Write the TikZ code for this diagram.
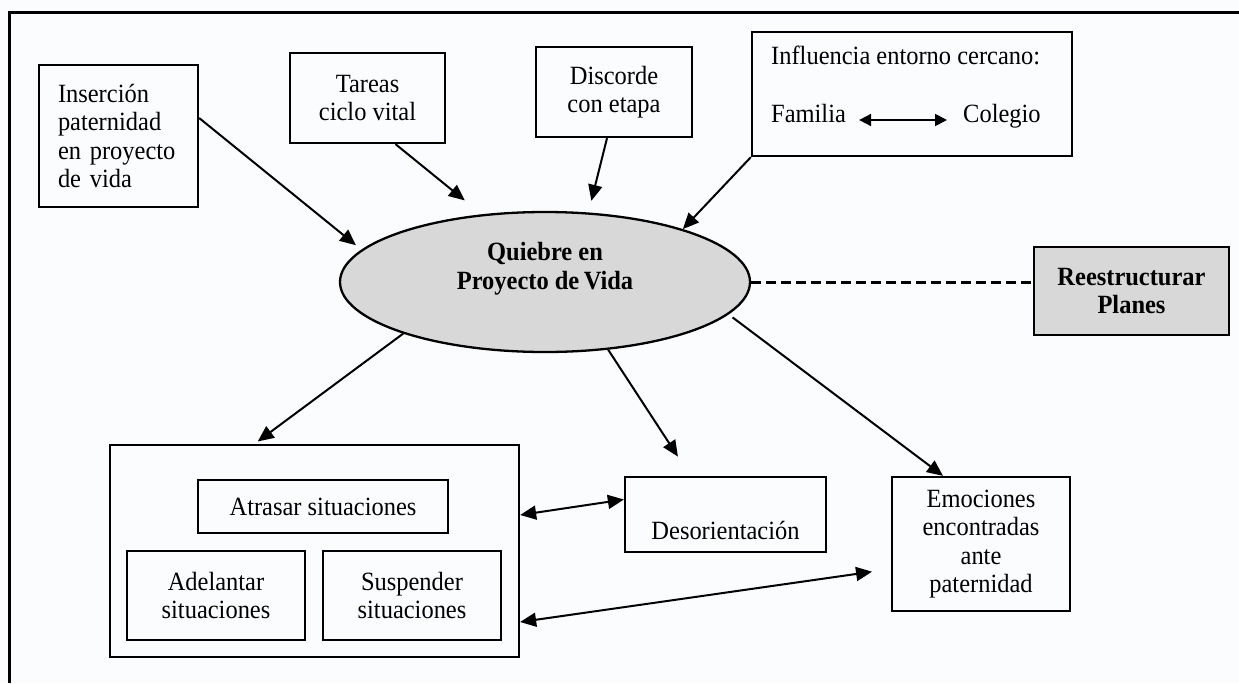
\documentclass[tikz,border=0pt]{standalone}
\usepackage{fontspec}
\setmainfont[FakeStretch=0.93]{Liberation Serif}
\usetikzlibrary{arrows.meta,shapes.geometric}
\definecolor{paper}{RGB}{250,252,253}
\definecolor{shade}{RGB}{216,216,216}
\begin{document}
\begin{tikzpicture}[x=1pt,y=-1pt,
  txt/.style={font=\fontsize{26.3}{28.5}\selectfont},
  boldtxt/.style={font=\fontsize{26.3}{28.5}\selectfont\bfseries},
  box/.style={draw, line width=2.3pt, inner sep=0pt, txt, align=center},
  tip/.style={Triangle[length=16pt,width=14pt]},
  arr/.style={line width=2pt, -{Triangle[length=16pt,width=14pt]}},
  dbl/.style={line width=2pt, {Triangle[length=16pt,width=14pt]}-{Triangle[length=16pt,width=14pt]}},
  smalldbl/.style={line width=1.8pt, {Triangle[length=12pt,width=12pt]}-{Triangle[length=12pt,width=12pt]}},
  link/.style={line width=3pt, dash pattern=on 10pt off 5pt}
]
% page and frame
\fill[paper] (0,0) rectangle (1239,683);
\useasboundingbox (0,0) rectangle (1239,683);
\draw[line width=3pt] (9,683) -- (9,12) -- (1239,12);

% upper boxes
\node[box, align=left, text width=121pt, inner xsep=19pt, minimum height=142pt] (ins) at (118.5,136) {Inserción\\paternidad\\en proyecto\\de vida};
\node[box, minimum width=155pt, minimum height=90pt] (tar) at (367.5,98) {Tareas\\ciclo vital};
\node[box, minimum width=156pt, minimum height=90pt] (dis) at (614,92) {Discorde\\con etapa};
\node[box, minimum width=320pt, minimum height=124pt] (inf) at (912,94) {};
\node[txt, anchor=base west, inner sep=0pt] (inft) at (771,64) {Influencia entorno cercano:};
\node[txt, anchor=base west, inner sep=0pt, text height=17pt, text depth=5pt] (fam) at (771,122) {Familia};
\node[txt, anchor=base west, inner sep=0pt, text height=17pt, text depth=5pt] (col) at (963,122) {Colegio};
\draw[smalldbl, shorten <=13pt, shorten >=16pt] ([yshift=-4pt]fam.east) -- ([yshift=-4pt]col.west);

% central ellipse
\node[ellipse, draw, line width=2.3pt, fill=shade, minimum width=410pt, minimum height=140pt, inner sep=0pt] (q) at (545,282) {};
\node[boldtxt, align=center, inner sep=0pt] (qt) at (545,268.5) {Quiebre en\\Proyecto de\,Vida};

% side box
\node[box, fill=shade, boldtxt, minimum width=195pt, minimum height=88pt] (rst) at (1131.5,291) {Reestructurar\\Planes};

% lower boxes
\node[box, minimum width=409pt, minimum height=212pt] (opc) at (314.5,551) {};
\node[box, minimum width=250pt, minimum height=53pt] (atr) at (323,506.5) {Atrasar situaciones};
\node[box, minimum width=178pt, minimum height=89pt] (ade) at (216,595.5) {Adelantar\\situaciones};
\node[box, minimum width=178pt, minimum height=89pt] (sus) at (412,595.5) {Suspender\\situaciones};
\node[box, minimum width=201pt, minimum height=75pt] (des) at (725.5,514.5) {};
\node[txt, inner sep=0pt] (dest) at (725.5,530) {Desorientación};
\node[box, minimum width=178pt, minimum height=134pt] (emo) at (981,544) {Emociones\\encontradas\\ante\\paternidad};

% connectors into the ellipse
\draw[arr, shorten >=7pt] ([yshift=18pt]ins.east) -- (q.170);
\draw[arr, shorten >=22pt] ([xshift=28pt]tar.south) -- (q.133);
\draw[arr, shorten >=12pt] ([xshift=-7pt]dis.south) -- (q.58);
\draw[arr] (inf.south west) -- (q.21);
\draw[link] (q.east) -- ([yshift=9pt]rst.west);

% connectors out of the ellipse
\draw[arr, shorten >=4pt] (q.200) -- ([xshift=-60pt]opc.north);
\draw[arr, shorten >=23pt] (q.-47) -- ([xshift=-35pt]des.north);
\draw[arr, shorten <=5pt] (q.-10) -- ([xshift=-38pt]emo.north);

% two-way links
\draw[dbl] ([yshift=36pt]opc.east) -- ([yshift=15pt]des.west);
\draw[dbl, shorten >=19pt] ([yshift=-71pt]opc.east) -- ([yshift=-25pt]emo.west);
\end{tikzpicture}
\end{document}
